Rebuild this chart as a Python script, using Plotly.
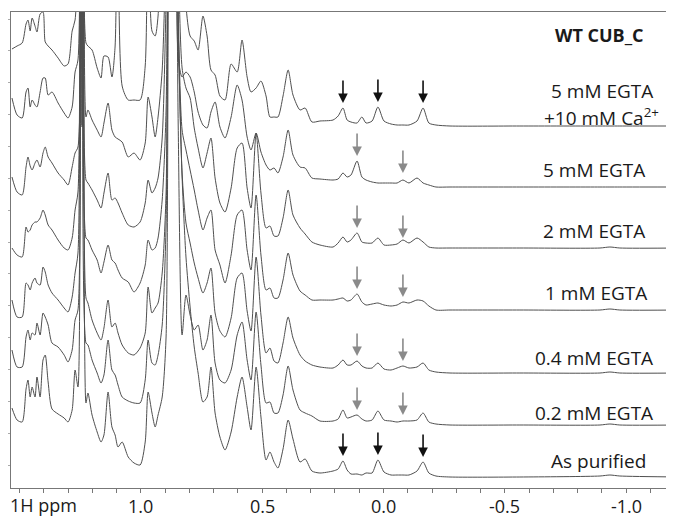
import plotly.graph_objects as go

# chemical shift grid (ppm)
ppm = [1.531, 1.510, 1.489, 1.473, 1.465, 1.456, 1.448, 1.436, 1.428, 1.415,
       1.403, 1.394, 1.382, 1.366, 1.341, 1.316, 1.300, 1.283, 1.271, 1.259,
       1.250, 1.242, 1.234, 1.226, 1.218, 1.201, 1.180, 1.164, 1.152, 1.135,
       1.119, 1.106, 1.094, 1.077, 1.052, 1.028, 1.003, 0.982, 0.970, 0.954,
       0.941, 0.929, 0.912, 0.896, 0.883, 0.871, 0.858, 0.846, 0.830, 0.814,
       0.797, 0.780, 0.764, 0.744, 0.727, 0.711, 0.694, 0.674, 0.653, 0.628,
       0.603, 0.583, 0.562, 0.546, 0.525, 0.505, 0.484, 0.468, 0.451, 0.435,
       0.414, 0.393, 0.373, 0.344, 0.323, 0.295, 0.262, 0.208, 0.187, 0.167,
       0.150, 0.134, 0.109, 0.089, 0.072, 0.047, 0.023, -0.002, -0.031, -0.056,
       -0.080, -0.105, -0.138, -0.163, -0.187, -0.216, -0.274, -0.562, -0.892, -0.933,
       -0.974, -1.230]

# intensities (a.u.), relative to each spectrum's baseline
egta5_ca10 = [77, 80, 83, 102, 106, 95, 108, 100, 94, 112,
              114, 84, 80, 76, 68, 60, 62, 95, 106, 200,
              700, 300, 700, 83, 80, 76, 58, 48, 70, 69,
              49, 80, 300, 40, 26, 26, 26, 60, 300, 95,
              90, 110, 300, 500, 600, 500, 600, 300, 200, 120,
              90, 85, 76, 110, 90, 56, 51, 30, 26, 62,
              54, 86, 49, 34, 38, 45, 30, 9, 9, 9,
              30, 56, 31, 16, 18, 4, 5, 6, 10, 18,
              6, 4, 3, 9, 3, 5, 19, 5, 2, 1,
              1, 1, 5, 18, 3, 1, 0, 0, 0, 0,
              0, 0]
egta5 = [89, 72, 69, 95, 99, 80, 87, 82, 80, 95,
         109, 109, 92, 95, 84, 74, 69, 80, 115, 127,
         700, 300, 700, 70, 77, 67, 57, 50, 64, 84,
         57, 50, 48, 45, 30, 34, 27, 44, 90, 70,
         50, 70, 117, 250, 600, 500, 600, 130, 110, 115,
         110, 95, 75, 62, 59, 75, 85, 60, 49, 70,
         102, 87, 50, 37, 54, 35, 22, 17, 19, 14,
         30, 57, 32, 20, 19, 9, 8, 7, 8, 14,
         10, 12, 26, 10, 7, 5, 4, 4, 4, 4,
         7, 4, 9, 4, 2, 0, 0, 0, 0, 0,
         0, 0]
egta2 = [71, 56, 53, 81, 91, 82, 78, 85, 88, 81,
         95, 101, 91, 85, 75, 68, 63, 81, 95, 101,
         700, 300, 700, 68, 65, 58, 48, 40, 55, 75,
         48, 50, 45, 35, 23, 21, 26, 45, 68, 55,
         60, 70, 110, 250, 600, 500, 600, 300, 180, 160,
         150, 120, 100, 80, 95, 110, 70, 45, 36, 60,
         100, 105, 60, 40, 115, 55, 20, 22, 12, 12,
         30, 58, 33, 20, 14, 6, 3, 1, 5, 11,
         6, 8, 15, 6, 5, 5, 10, 3, 3, 4,
         8, 5, 10, 6, 1, 0, 0, 0, 0, 1,
         0, 0]
egta1 = [62, 55, 53, 83, 78, 80, 85, 88, 88, 92,
         100, 95, 85, 80, 70, 62, 60, 72, 100, 118,
         700, 300, 700, 72, 70, 60, 50, 37, 48, 65,
         50, 47, 40, 32, 28, 18, 27, 45, 70, 60,
         62, 72, 110, 200, 600, 450, 600, 300, 180, 160,
         140, 120, 100, 80, 92, 100, 60, 45, 27, 55,
         95, 100, 60, 40, 115, 55, 20, 22, 12, 12,
         30, 57, 35, 19, 15, 10, 10, 10, 11, 12,
         9, 10, 16, 8, 5, 6, 7, 5, 4, 5,
         8, 7, 10, 9, 4, 0, 0, 0, 0, 1,
         0, 0]
egta04 = [73, 56, 56, 90, 88, 83, 90, 95, 90, 88,
          106, 101, 88, 80, 73, 65, 61, 76, 100, 120,
          700, 350, 700, 75, 70, 53, 40, 33, 45, 73,
          46, 50, 40, 28, 20, 18, 25, 40, 86, 60,
          65, 70, 100, 180, 600, 500, 650, 350, 200, 150,
          130, 110, 95, 80, 90, 105, 60, 42, 36, 55,
          95, 100, 62, 42, 116, 58, 20, 25, 12, 10,
          30, 56, 35, 18, 12, 8, 6, 5, 8, 13,
          8, 8, 12, 7, 5, 5, 10, 4, 3, 5,
          7, 5, 6, 10, 3, 1, 0, 0, 0, 1,
          0, 0]
egta02 = [75, 58, 58, 88, 95, 85, 92, 90, 102, 90,
          112, 108, 100, 82, 78, 70, 63, 75, 105, 115,
          700, 300, 700, 82, 80, 65, 52, 42, 50, 85,
          55, 50, 40, 28, 24, 22, 22, 45, 85, 62,
          60, 70, 100, 200, 600, 450, 600, 300, 90, 130,
          110, 95, 100, 75, 85, 110, 62, 45, 42, 55,
          90, 103, 65, 45, 113, 60, 22, 23, 12, 12,
          30, 59, 35, 15, 12, 9, 4, 4, 6, 15,
          7, 8, 10, 6, 4, 5, 14, 5, 4, 3,
          4, 4, 5, 12, 3, 1, 0, 0, 0, 1,
          0, 0]
as_purified = [69, 57, 55, 88, 97, 80, 90, 80, 100, 80,
               117, 122, 95, 68, 63, 59, 55, 67, 107, 90,
               700, 350, 700, 74, 84, 62, 45, 35, 42, 85,
               50, 42, 30, 35, 20, 14, 12, 35, 85, 64,
               50, 62, 80, 140, 700, 550, 700, 450, 300, 220,
               170, 130, 104, 75, 80, 110, 64, 40, 27, 45,
               80, 100, 70, 47, 110, 60, 17, 25, 15, 9,
               28, 57, 38, 15, 18, 6, 4, 6, 8, 16,
               7, 3, 3, 2, 4, 4, 17, 5, 2, 2,
               2, 2, 6, 15, 4, 1, 0, 0, 1, 2,
               1, 0]

spectra = [egta5_ca10, egta5, egta2, egta1, egta04, egta02, as_purified]
label_lines = [["5 mM EGTA", "+10 mM Ca<sup>2+</sup>"], ["5 mM EGTA"], ["2 mM EGTA"],
               ["1 mM EGTA"], ["0.4 mM EGTA"], ["0.2 mM EGTA"], ["As purified"]]
stack_offsets = [362, 301, 240, 178, 115, 63, 11]

# arrows: (ppm, tip height above baseline)
black_arrow_ppm = [0.167, 0.023, -0.163]
gray_arrow_ppm = [0.109, -0.080]
black_tips = {0: [23, 24, 23], 6: [21, 22, 20]}
gray_tips = {1: [31, 14], 2: [20, 10], 3: [21, 13], 4: [17, 12], 5: [15, 10]}

title_text = "WT CUB_C"
major_ticks = [1.0, 0.5, 0.0, -0.5, -1.0]
axis_title = "1H ppm"

LINE = "#4f4f4f"
TXT = "#1a1a1a"
FONT = "Open Sans"

fig = go.Figure()
for spec, off in zip(spectra, stack_offsets):
    fig.add_trace(go.Scatter(x=ppm, y=[v + off for v in spec], mode="lines",
                             line=dict(color=LINE, width=1, shape="spline", smoothing=0.7),
                             showlegend=False, hoverinfo="skip"))

ann = []
# labels (vertical placement relative to each spectrum's baseline)
label_dy = [[35, 9], [17], [17], [17], [15], [12], [16]]
label_x = [-0.900, -0.867, -0.867, -0.875, -0.867, -0.867, -0.884]
for lines, off, dys, lx in zip(label_lines, stack_offsets, label_dy, label_x):
    for txt, dy in zip(lines, dys):
        ann.append(dict(x=lx, y=off + dy, text=txt, showarrow=False,
                        xanchor="center", yanchor="middle",
                        font=dict(family=FONT, size=19, color=TXT)))
ann.append(dict(x=-0.892, y=453, text="<b>" + title_text + "</b>", showarrow=False,
                xanchor="center", yanchor="middle",
                font=dict(family=FONT, size=18, color=TXT)))

for i, tips in black_tips.items():
    for p, t in zip(black_arrow_ppm, tips):
        ann.append(dict(x=p, y=stack_offsets[i] + t, ax=0, ay=-24, showarrow=True,
                        arrowhead=2, arrowsize=1.2, arrowwidth=1.6, arrowcolor="#111111",
                        text=""))
for i, tips in gray_tips.items():
    for p, t in zip(gray_arrow_ppm, tips):
        ann.append(dict(x=p, y=stack_offsets[i] + t, ax=0, ay=-24, showarrow=True,
                        arrowhead=2, arrowsize=1.2, arrowwidth=1.6, arrowcolor="#8a8a8a",
                        text=""))

# x tick labels
for m in major_ticks:
    ann.append(dict(x=m, xref="x", y=0, yref="paper", yanchor="top", yshift=-4,
                    text="%.1f" % m, showarrow=False,
                    font=dict(family=FONT, size=18, color=TXT)))
ann.append(dict(xref="paper", yref="paper", x=0, y=0, xanchor="left", yanchor="top",
                xshift=-3, yshift=-3, text=axis_title, showarrow=False,
                font=dict(family=FONT, size=18, color=TXT)))

tickvals = [round(1.5 - 0.1 * k, 1) for k in range(28)]

fig.update_layout(
    width=674, height=518,
    margin=dict(l=3, r=0, t=4, b=38),
    paper_bgcolor="white", plot_bgcolor="white",
    annotations=ann,
    xaxis=dict(range=[1.535, -1.230], tickvals=tickvals, showticklabels=False,
               ticks="outside", ticklen=4, tickcolor="#777777", showline=True,
               linecolor="#777777", linewidth=1, mirror=True, showgrid=False,
               zeroline=False),
    yaxis=dict(range=[0, 476], showline=True, linecolor="#777777", linewidth=1,
               ticks="outside", ticklen=3, tickcolor="#aaaaaa", tick0=23, dtick=31.85,
               showticklabels=False, showgrid=False, zeroline=False),
)

fig.write_html("out.html")
